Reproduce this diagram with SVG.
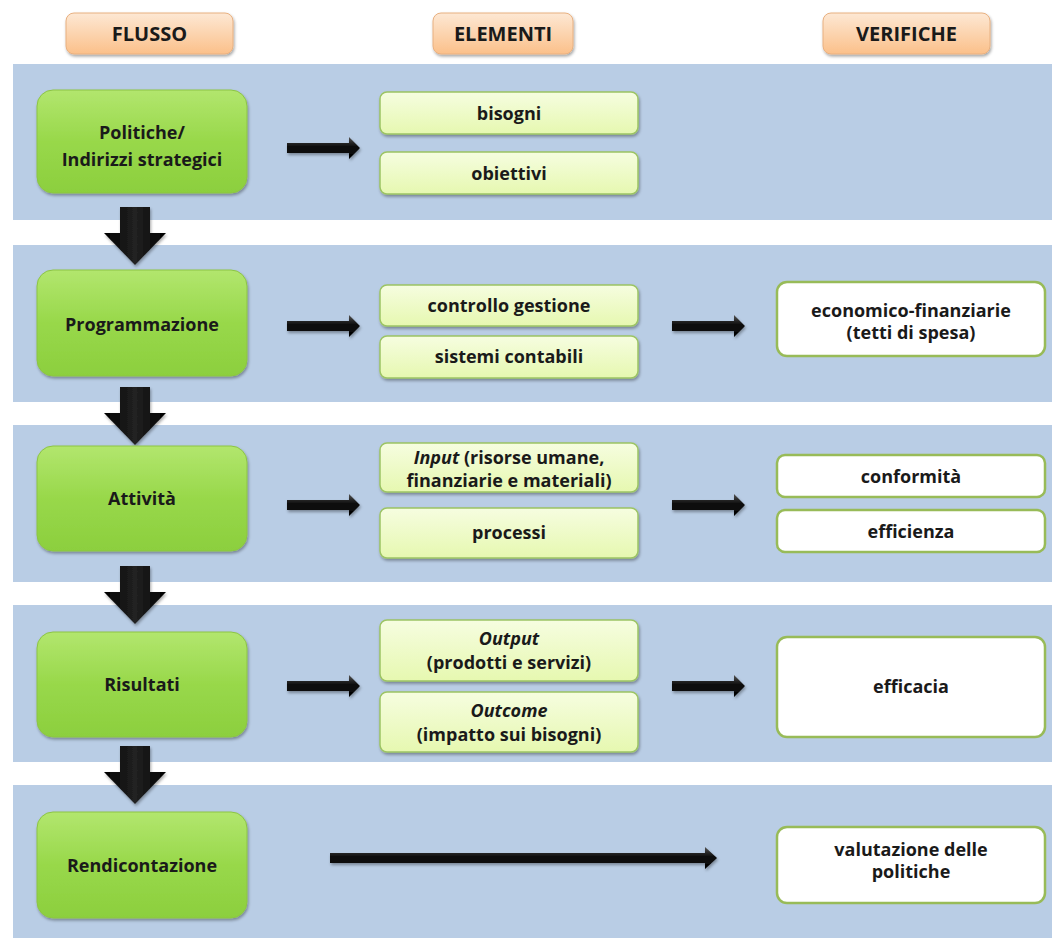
<svg xmlns="http://www.w3.org/2000/svg" width="1052" height="938" viewBox="0 0 1052 938">
<defs>
<linearGradient id="gGreen" x1="0" y1="0" x2="0" y2="1"><stop offset="0" stop-color="#b2e66e"/><stop offset="0.5" stop-color="#98d84a"/><stop offset="1" stop-color="#8ccf3e"/></linearGradient>
<linearGradient id="gElem" x1="0" y1="0" x2="0" y2="1"><stop offset="0" stop-color="#f6fde0"/><stop offset="1" stop-color="#e6f8b0"/></linearGradient>
<linearGradient id="gHead" x1="0" y1="0" x2="0" y2="1"><stop offset="0" stop-color="#fde8d4"/><stop offset="1" stop-color="#fbc08a"/></linearGradient>
<linearGradient id="gArrow" x1="0" y1="0" x2="0" y2="1"><stop offset="0" stop-color="#555"/><stop offset="0.4" stop-color="#111"/><stop offset="1" stop-color="#000"/></linearGradient>
<linearGradient id="gArrowV" x1="0" y1="0" x2="1" y2="0"><stop offset="0" stop-color="#000"/><stop offset="0.5" stop-color="#222"/><stop offset="1" stop-color="#000"/></linearGradient>
<filter id="sh" x="-10%" y="-10%" width="130%" height="140%"><feDropShadow dx="1" dy="2" stdDeviation="1.5" flood-color="#000" flood-opacity="0.35"/></filter>
</defs>
<style>
.band{fill:#b9cde5}
.head{fill:url(#gHead);stroke:#e8b080;stroke-width:1}
.green{fill:url(#gGreen);stroke:#8cc444;stroke-width:1}
.elem{fill:url(#gElem);stroke:#9cc464;stroke-width:1.5}
.ver{fill:#ffffff;stroke:#98bb58;stroke-width:2.5}
.arr{fill:url(#gArrow)}
.darr{fill:url(#gArrowV)}
text{font-family:"Open Sans","Liberation Sans",sans-serif;font-weight:bold;fill:#1a1a1a;text-anchor:middle}
.t16{font-size:18px}
.th{font-size:20px}
</style>
<rect width="1052" height="938" fill="#ffffff"/>
<g id="bands">
<rect class="band" x="13" y="64" width="1039" height="156"/>
<rect class="band" x="13" y="245" width="1039" height="157"/>
<rect class="band" x="13" y="425" width="1039" height="157"/>
<rect class="band" x="13" y="605" width="1039" height="157"/>
<rect class="band" x="13" y="785" width="1039" height="153"/>
</g>
<g id="header-flusso"><rect class="head" x="66" y="13" width="167" height="41" rx="8" filter="url(#sh)"/><text class="th" x="149.5" y="41">FLUSSO</text></g>
<g id="header-elementi"><rect class="head" x="433" y="13" width="140" height="41" rx="8" filter="url(#sh)"/><text class="th" x="503" y="41">ELEMENTI</text></g>
<g id="header-verifiche"><rect class="head" x="823" y="13" width="167" height="41" rx="8" filter="url(#sh)"/><text class="th" x="906.5" y="41">VERIFICHE</text></g>
<g id="connectors">
<path class="darr" d="M120,207 H150 V233 H166 L135,265 L104,233 H120 Z" filter="url(#sh)"/>
<path class="darr" d="M120,387 H150 V413 H166 L135,445 L104,413 H120 Z" filter="url(#sh)"/>
<path class="darr" d="M120,566 H150 V592 H166 L135,624 L104,592 H120 Z" filter="url(#sh)"/>
<path class="darr" d="M120,746 H150 V772 H166 L135,804 L104,772 H120 Z" filter="url(#sh)"/>
<path class="arr" d="M287,143 H349 V137 L360,148 L349,159 V153 H287 Z" filter="url(#sh)"/>
<path class="arr" d="M287,321 H349 V315 L360,326 L349,337 V331 H287 Z" filter="url(#sh)"/>
<path class="arr" d="M287,500 H349 V494 L360,505 L349,516 V510 H287 Z" filter="url(#sh)"/>
<path class="arr" d="M287,681 H349 V675 L360,686 L349,697 V691 H287 Z" filter="url(#sh)"/>
<path class="arr" d="M672,321 H734 V315 L745,326 L734,337 V331 H672 Z" filter="url(#sh)"/>
<path class="arr" d="M672,500 H734 V494 L745,505 L734,516 V510 H672 Z" filter="url(#sh)"/>
<path class="arr" d="M672,681 H734 V675 L745,686 L734,697 V691 H672 Z" filter="url(#sh)"/>
<path class="arr" d="M330,853 H705 V847 L717,858 L705,869 V863 H330 Z" filter="url(#sh)"/>
</g>
<g id="node-politiche"><rect class="green" x="37" y="90" width="210" height="103" rx="16" filter="url(#sh)"/><text class="t16" x="142" y="139">Politiche/</text><text class="t16" x="142" y="166">Indirizzi strategici</text></g>
<g id="node-programmazione"><rect class="green" x="37" y="270" width="210" height="106" rx="16" filter="url(#sh)"/><text class="t16" x="142" y="331">Programmazione</text></g>
<g id="node-attivita"><rect class="green" x="37" y="446" width="210" height="105" rx="16" filter="url(#sh)"/><text class="t16" x="142" y="505">Attività</text></g>
<g id="node-risultati"><rect class="green" x="37" y="632" width="210" height="105" rx="16" filter="url(#sh)"/><text class="t16" x="142" y="691">Risultati</text></g>
<g id="node-rendicontazione"><rect class="green" x="37" y="812" width="210" height="106" rx="16" filter="url(#sh)"/><text class="t16" x="142" y="872">Rendicontazione</text></g>
<g id="el-bisogni"><rect class="elem" x="380" y="92" width="258" height="42" rx="7" filter="url(#sh)"/><text class="t16" x="509" y="120">bisogni</text></g>
<g id="el-obiettivi"><rect class="elem" x="380" y="152" width="258" height="42" rx="7" filter="url(#sh)"/><text class="t16" x="509" y="180">obiettivi</text></g>
<g id="el-controllo"><rect class="elem" x="380" y="285" width="258" height="41" rx="7" filter="url(#sh)"/><text class="t16" x="509" y="312">controllo gestione</text></g>
<g id="el-sistemi"><rect class="elem" x="380" y="336" width="258" height="42" rx="7" filter="url(#sh)"/><text class="t16" x="509" y="363">sistemi contabili</text></g>
<g id="el-input"><rect class="elem" x="380" y="443" width="258" height="49" rx="7" filter="url(#sh)"/><text class="t16" x="509" y="464"><tspan font-style="italic">Input</tspan> (risorse umane,</text><text class="t16" x="509" y="487">finanziarie e materiali)</text></g>
<g id="el-processi"><rect class="elem" x="380" y="508" width="258" height="50" rx="7" filter="url(#sh)"/><text class="t16" x="509" y="539">processi</text></g>
<g id="el-output"><rect class="elem" x="380" y="620" width="258" height="61" rx="7" filter="url(#sh)"/><text class="t16" x="509" y="645" font-style="italic">Output</text><text class="t16" x="509" y="669">(prodotti e servizi)</text></g>
<g id="el-outcome"><rect class="elem" x="380" y="692" width="258" height="60" rx="7" filter="url(#sh)"/><text class="t16" x="509" y="717" font-style="italic">Outcome</text><text class="t16" x="509" y="741">(impatto sui bisogni)</text></g>
<g id="v-economico"><rect class="ver" x="777" y="282" width="268" height="74" rx="10"/><text class="t16" x="911" y="317">economico-finanziarie</text><text class="t16" x="911" y="339">(tetti di spesa)</text></g>
<g id="v-conformita"><rect class="ver" x="777" y="455" width="268" height="42" rx="8"/><text class="t16" x="911" y="483">conformità</text></g>
<g id="v-efficienza"><rect class="ver" x="777" y="510" width="268" height="42" rx="8"/><text class="t16" x="911" y="538">efficienza</text></g>
<g id="v-efficacia"><rect class="ver" x="777" y="637" width="268" height="100" rx="10"/><text class="t16" x="911" y="693">efficacia</text></g>
<g id="v-valutazione"><rect class="ver" x="777" y="827" width="268" height="76" rx="10"/><text class="t16" x="911" y="856">valutazione delle</text><text class="t16" x="911" y="878">politiche</text></g>
</svg>
